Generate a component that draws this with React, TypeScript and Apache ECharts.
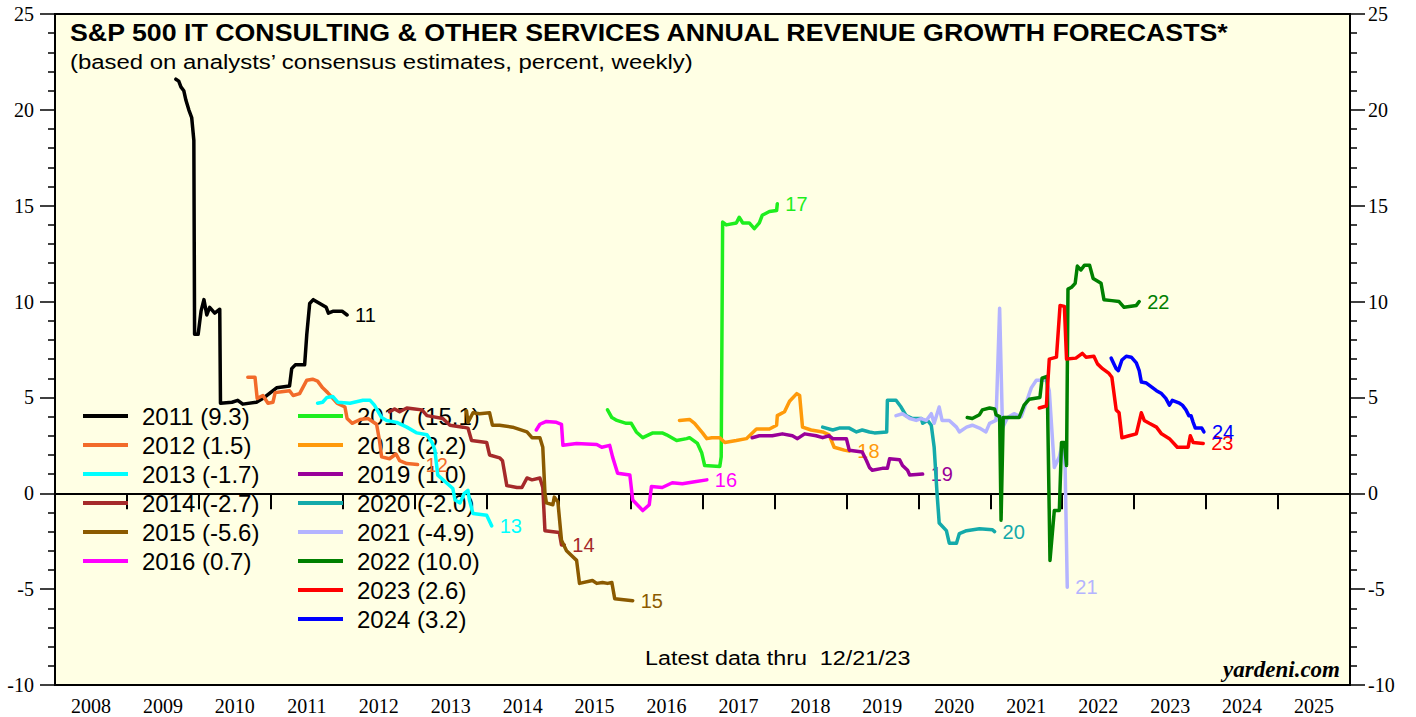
import React, { useEffect, useRef } from 'react';
import * as echarts from 'echarts';

const yearLabels = ['2008', '2009', '2010', '2011', '2012', '2013', '2014', '2015', '2016', '2017', '2018', '2019', '2020', '2021', '2022', '2023', '2024', '2025'];

const s2011: [number, number][] = [
  [2009.68, 21.6], [2009.72, 21.5], [2009.75, 21.2], [2009.79, 21.0], [2009.82, 20.5], [2009.86, 20.0], [2009.9, 19.6], [2009.93, 18.4],
  [2009.94, 8.3], [2009.99, 8.3], [2010.03, 9.5], [2010.07, 10.1], [2010.11, 9.3], [2010.15, 9.7], [2010.22, 9.4], [2010.29, 9.6],
  [2010.3, 4.7], [2010.46, 4.75], [2010.54, 4.85], [2010.61, 4.65], [2010.8, 4.75], [2010.91, 5.0], [2011.08, 5.5], [2011.26, 5.6],
  [2011.29, 6.5], [2011.34, 6.7], [2011.47, 6.7], [2011.5, 8.3], [2011.54, 9.9], [2011.59, 10.1], [2011.68, 9.9], [2011.77, 9.7],
  [2011.8, 9.4], [2011.87, 9.5], [2011.99, 9.5], [2012.06, 9.3]
];
const s2012: [number, number][] = [
  [2010.68, 6.05], [2010.78, 6.05], [2010.81, 4.95], [2010.89, 5.1], [2010.96, 4.7], [2011.03, 4.75], [2011.06, 5.25], [2011.15, 5.3],
  [2011.26, 5.35], [2011.31, 5.1], [2011.4, 5.2], [2011.5, 5.9], [2011.58, 5.95], [2011.65, 5.85], [2011.72, 5.5], [2011.79, 5.25],
  [2011.92, 4.7], [2012.03, 4.5], [2012.06, 3.9], [2012.13, 3.65], [2012.24, 3.85], [2012.35, 3.9], [2012.47, 3.6], [2012.51, 2.75],
  [2012.54, 1.9], [2012.65, 1.8], [2012.74, 2.05], [2012.79, 1.7], [2012.89, 1.55], [2013.04, 1.5]
];
const s2013: [number, number][] = [
  [2011.65, 4.7], [2011.72, 4.75], [2011.78, 5.0], [2011.86, 5.05], [2011.93, 4.75], [2012.1, 4.7], [2012.28, 4.85], [2012.38, 4.85],
  [2012.44, 4.6], [2012.54, 3.95], [2012.61, 3.8], [2012.75, 3.7], [2012.89, 3.45], [2013.03, 3.15], [2013.17, 3.05], [2013.24, 2.65],
  [2013.28, 2.25], [2013.32, 0.95], [2013.44, 0.55], [2013.53, 0.25], [2013.56, -0.35], [2013.63, -0.5], [2013.69, 0.0], [2013.74, 0.15],
  [2013.76, -0.35], [2013.81, -1.05], [2014.0, -1.15], [2014.07, -1.7]
];
const s2014: [number, number][] = [
  [2012.65, 4.25], [2012.72, 4.4], [2012.79, 4.25], [2012.89, 4.45], [2013.0, 4.4], [2013.1, 4.35], [2013.17, 4.05], [2013.39, 3.9],
  [2013.49, 3.55], [2013.67, 3.45], [2013.74, 3.4], [2013.79, 2.75], [2014.0, 2.65], [2014.04, 2.0], [2014.18, 1.85], [2014.22, 1.7],
  [2014.28, 0.4], [2014.42, 0.3], [2014.49, 0.3], [2014.56, 0.8], [2014.63, 0.7], [2014.74, 0.8], [2014.78, 0.3], [2014.81, -1.95],
  [2015.01, -2.05], [2015.04, -2.7], [2015.08, -2.7]
];
const s2015: [number, number][] = [
  [2013.72, 4.3], [2013.74, 3.7], [2013.81, 4.2], [2013.9, 4.15], [2014.04, 4.2], [2014.08, 3.55], [2014.18, 3.55], [2014.36, 3.45],
  [2014.56, 3.2], [2014.63, 2.9], [2014.74, 2.9], [2014.78, 2.4], [2014.81, 0.0], [2014.83, -0.5], [2014.92, -0.6], [2014.94, -0.2],
  [2014.99, -0.45], [2015.04, -2.45], [2015.11, -3.0], [2015.25, -3.5], [2015.29, -4.7], [2015.47, -4.55], [2015.53, -4.7], [2015.61, -4.65],
  [2015.68, -4.7], [2015.74, -4.65], [2015.78, -5.5], [2016.03, -5.6]
];
const s2016: [number, number][] = [
  [2014.69, 3.3], [2014.74, 3.6], [2014.83, 3.75], [2014.97, 3.7], [2015.04, 3.6], [2015.06, 2.5], [2015.25, 2.6], [2015.53, 2.55],
  [2015.6, 2.4], [2015.71, 2.5], [2015.75, 1.9], [2015.82, 1.05], [2015.99, 0.95], [2016.03, -0.35], [2016.17, -0.9], [2016.26, -0.6],
  [2016.29, 0.35], [2016.44, 0.3], [2016.58, 0.55], [2016.72, 0.5], [2016.89, 0.6], [2017.06, 0.7]
];
const s2017: [number, number][] = [
  [2015.68, 4.35], [2015.74, 3.95], [2015.81, 3.8], [2015.94, 3.65], [2016.01, 3.65], [2016.08, 3.2], [2016.17, 2.9], [2016.31, 3.15],
  [2016.44, 3.15], [2016.5, 3.05], [2016.64, 2.75], [2016.78, 2.85], [2016.82, 2.9], [2016.93, 2.6], [2016.99, 2.1], [2017.03, 1.45],
  [2017.24, 1.4], [2017.26, 1.9], [2017.28, 14.15], [2017.33, 14.0], [2017.47, 14.1], [2017.51, 14.4], [2017.56, 14.1], [2017.65, 14.1],
  [2017.72, 13.8], [2017.79, 14.1], [2017.83, 14.5], [2017.93, 14.7], [2018.03, 14.75], [2018.04, 15.1]
];
const s2018: [number, number][] = [
  [2016.68, 3.8], [2016.82, 3.85], [2016.89, 3.65], [2017.0, 3.15], [2017.06, 2.85], [2017.13, 2.9], [2017.24, 2.9], [2017.31, 2.65],
  [2017.47, 2.75], [2017.61, 2.85], [2017.75, 3.35], [2017.93, 3.35], [2018.03, 3.55], [2018.04, 4.05], [2018.14, 4.25], [2018.21, 4.8],
  [2018.31, 5.2], [2018.35, 5.1], [2018.39, 3.45], [2018.51, 3.3], [2018.67, 3.2], [2018.76, 3.05], [2018.83, 2.4], [2018.97, 2.25],
  [2019.04, 2.2]
];
const s2019: [number, number][] = [
  [2017.69, 2.9], [2017.79, 3.0], [2017.97, 3.0], [2018.11, 3.1], [2018.25, 3.0], [2018.32, 2.85], [2018.42, 3.1], [2018.58, 3.0],
  [2018.67, 2.9], [2018.76, 3.0], [2018.81, 2.85], [2019.0, 2.85], [2019.04, 2.25], [2019.22, 2.15], [2019.28, 1.7], [2019.32, 1.35],
  [2019.36, 1.2], [2019.5, 1.3], [2019.57, 1.3], [2019.6, 1.8], [2019.74, 1.75], [2019.78, 1.45], [2019.85, 1.2], [2019.88, 0.95],
  [2020.06, 1.0]
];
const s2020: [number, number][] = [
  [2018.67, 3.45], [2018.81, 3.3], [2018.9, 3.4], [2019.04, 3.4], [2019.14, 3.2], [2019.22, 3.3], [2019.32, 3.2], [2019.39, 3.15],
  [2019.56, 3.2], [2019.57, 4.85], [2019.69, 4.85], [2019.76, 4.5], [2019.83, 4.05], [2019.92, 3.9], [2020.04, 3.9], [2020.06, 3.65],
  [2020.13, 3.8], [2020.18, 3.55], [2020.22, 2.4], [2020.26, 0.0], [2020.29, -1.55], [2020.39, -1.95], [2020.43, -2.6], [2020.53, -2.6],
  [2020.57, -2.1], [2020.67, -1.95], [2020.85, -1.85], [2021.03, -1.9], [2021.06, -2.0]
];
const s2021: [number, number][] = [
  [2019.69, 4.05], [2019.78, 4.15], [2019.88, 3.9], [2019.97, 3.8], [2020.04, 3.9], [2020.11, 3.8], [2020.18, 4.15], [2020.22, 3.65],
  [2020.29, 4.5], [2020.33, 3.8], [2020.43, 3.8], [2020.53, 3.45], [2020.57, 3.2], [2020.67, 3.45], [2020.75, 3.55], [2020.85, 3.4],
  [2020.94, 3.2], [2020.99, 3.65], [2021.08, 3.8], [2021.13, 9.65], [2021.17, 3.4], [2021.24, 3.95], [2021.33, 4.15], [2021.43, 4.0],
  [2021.51, 4.85], [2021.57, 5.5], [2021.64, 5.9], [2021.78, 5.9], [2021.82, 5.35], [2021.89, 1.35], [2021.96, 1.9], [2022.0, 2.6],
  [2022.04, 1.45], [2022.07, -4.9]
];
const s2022: [number, number][] = [
  [2020.68, 3.95], [2020.75, 3.9], [2020.85, 4.1], [2020.89, 4.35], [2020.99, 4.45], [2021.06, 4.4], [2021.08, 4.1], [2021.13, 4.0],
  [2021.15, -1.4], [2021.18, 3.95], [2021.4, 3.95], [2021.47, 4.6], [2021.54, 4.9], [2021.69, 5.0], [2021.72, 6.0], [2021.79, 6.1],
  [2021.83, -3.5], [2021.89, -0.9], [2021.96, -0.9], [2021.99, 2.65], [2022.03, 2.65], [2022.06, 1.45], [2022.08, 10.65], [2022.13, 10.75],
  [2022.18, 10.95], [2022.21, 11.85], [2022.26, 11.65], [2022.31, 11.9], [2022.38, 11.9], [2022.43, 11.2], [2022.54, 10.95], [2022.58, 10.1],
  [2022.69, 10.05], [2022.79, 10.0], [2022.86, 9.7], [2023.03, 9.8], [2023.07, 10.0]
];
const s2023: [number, number][] = [
  [2021.68, 4.45], [2021.78, 4.55], [2021.82, 7.0], [2021.92, 7.1], [2021.97, 9.8], [2022.03, 9.75], [2022.06, 7.0], [2022.19, 7.05],
  [2022.28, 7.3], [2022.33, 7.1], [2022.44, 7.15], [2022.49, 6.75], [2022.56, 6.5], [2022.65, 6.25], [2022.69, 6.05], [2022.75, 4.35],
  [2022.79, 4.2], [2022.83, 2.9], [2022.93, 3.0], [2023.03, 3.1], [2023.1, 4.2], [2023.14, 3.8], [2023.21, 3.65], [2023.31, 3.45],
  [2023.38, 3.1], [2023.49, 2.85], [2023.6, 2.4], [2023.75, 2.4], [2023.78, 3.0], [2023.82, 2.65], [2023.96, 2.6]
];
const s2024: [number, number][] = [
  [2022.68, 7.05], [2022.75, 6.5], [2022.78, 6.4], [2022.83, 6.95], [2022.89, 7.15], [2022.96, 7.1], [2023.03, 6.8], [2023.07, 6.4],
  [2023.1, 5.8], [2023.17, 5.75], [2023.24, 5.55], [2023.31, 5.35], [2023.38, 5.2], [2023.44, 4.95], [2023.49, 4.6], [2023.53, 4.85],
  [2023.63, 4.7], [2023.67, 4.6], [2023.72, 4.35], [2023.76, 4.05], [2023.79, 4.05], [2023.82, 3.7], [2023.85, 3.4], [2023.94, 3.4],
  [2023.97, 3.2]
];

const legendNames = ['2011 (9.3)', '2012 (1.5)', '2013 (-1.7)', '2014 (-2.7)', '2015 (-5.6)', '2016 (0.7)', '2017 (15.1)', '2018 (2.2)', '2019 (1.0)', '2020 (-2.0)', '2021 (-4.9)', '2022 (10.0)', '2023 (2.6)', '2024 (3.2)'];
const endTags = ['11', '12', '13', '14', '15', '16', '17', '18', '19', '20', '21', '22', '23', '24'];
const colors = ['#000000', '#F26B2A', '#00FFFF', '#A52A2A', '#8B5A00', '#FF00FF', '#1EEE1E', '#FF9A0A', '#990099', '#14AAAA', '#B4B4FF', '#008000', '#FF0000', '#0000FF'];

const SANS = '"Liberation Sans", Arial, Helvetica, sans-serif';
const SERIF = '"Liberation Serif", "Times New Roman", Times, serif';

export default function App() {
  const ref = useRef<HTMLDivElement>(null);
  useEffect(() => {
    if (!ref.current) return;
    const chart = echarts.init(ref.current, null, { renderer: 'svg' });
    const datasets = [s2011, s2012, s2013, s2014, s2015, s2016, s2017, s2018, s2019, s2020, s2021, s2022, s2023, s2024];
    const series: any[] = datasets.map((d, i) => ({
      type: 'line',
      name: legendNames[i],
      data: d,
      xAxisIndex: 0,
      yAxisIndex: 0,
      symbol: 'none',
      showSymbol: false,
      color: colors[i],
      lineStyle: { color: colors[i], width: 3.5, cap: 'round', join: 'round' },
      itemStyle: { color: colors[i] },
      endLabel: { show: true, formatter: endTags[i], color: colors[i], fontFamily: SANS, fontSize: 20, distance: 8 },
      emphasis: { disabled: true },
      z: 3 + i,
    }));
    series[0].markLine = {
      silent: true,
      symbol: ['none', 'none'],
      label: { show: false },
      lineStyle: { color: '#000', width: 1, type: 'solid' },
      data: [{ yAxis: 0 }],
      z: 2,
    };
    const legendBase = {
      orient: 'vertical',
      padding: 0,
      itemWidth: 45,
      itemHeight: 4,
      itemGap: 5,
      icon: 'rect',
      selectedMode: false,
      textStyle: { fontSize: 24, fontFamily: SANS, color: '#000', lineHeight: 24, padding: [0, 0, 0, 9] },
    };
    const yBase = {
      type: 'value',
      min: -10,
      max: 25,
      interval: 5,
      axisLine: { show: true, lineStyle: { color: '#000', width: 2 } },
      axisTick: { show: true, length: 15, lineStyle: { color: '#000', width: 1.5 } },
      minorTick: { show: true, splitNumber: 5, length: 7, lineStyle: { color: '#000', width: 1.5 } },
      splitLine: { show: false },
    };
    chart.setOption({
      animation: false,
      grid: { left: 55, top: 14, right: 66, bottom: 32, show: true, borderColor: '#000', borderWidth: 2, backgroundColor: '#FFFFE4', containLabel: false },
      xAxis: [
        { type: 'value', min: 2008, max: 2026, show: false },
        {
          type: 'category',
          data: yearLabels,
          position: 'bottom',
          boundaryGap: true,
          axisLine: { show: true, lineStyle: { color: '#000', width: 2 } },
          axisTick: { show: true, length: 16, interval: 0, lineStyle: { color: '#000', width: 2 } },
          axisLabel: { color: '#000', fontFamily: SERIF, fontSize: 20, margin: 11, interval: 0 },
          splitLine: { show: false },
        },
      ],
      yAxis: [
        { ...yBase, position: 'left', axisLabel: { color: '#000', fontFamily: SERIF, fontSize: 20, margin: 21 } },
        { ...yBase, position: 'right', axisLabel: { color: '#000', fontFamily: SERIF, fontSize: 20, margin: 18 } },
      ],
      legend: [
        { ...legendBase, data: legendNames.slice(0, 6), left: 83, top: 404 },
        { ...legendBase, data: legendNames.slice(6), left: 298, top: 404 },
      ],
      graphic: [
        { type: 'text', x: 70, y: 33, scaleX: 1.115, z: 100, style: { text: 'S&P 500 IT CONSULTING & OTHER SERVICES ANNUAL REVENUE GROWTH FORECASTS*', font: `bold 24px ${SANS}`, fill: '#000', verticalAlign: 'middle' } },
        { type: 'text', x: 70, y: 62, scaleX: 1.14, z: 100, style: { text: '(based on analysts\u2019 consensus estimates, percent, weekly)', font: `21px ${SANS}`, fill: '#000', verticalAlign: 'middle' } },
        { type: 'text', x: 645, y: 658, scaleX: 1.11, z: 100, style: { text: 'Latest data thru  12/21/23', font: `21px ${SANS}`, fill: '#000', verticalAlign: 'middle' } },
        { type: 'text', x: 1340, y: 669, z: 100, style: { text: 'yardeni.com', font: `italic bold 23px ${SERIF}`, fill: '#000', align: 'right', verticalAlign: 'middle' } },
      ],
      series,
    });
    return () => chart.dispose();
  }, []);
  return <div ref={ref} style={{ position: 'absolute', left: 0, top: 0, width: 1416, height: 717 }} />;
}
